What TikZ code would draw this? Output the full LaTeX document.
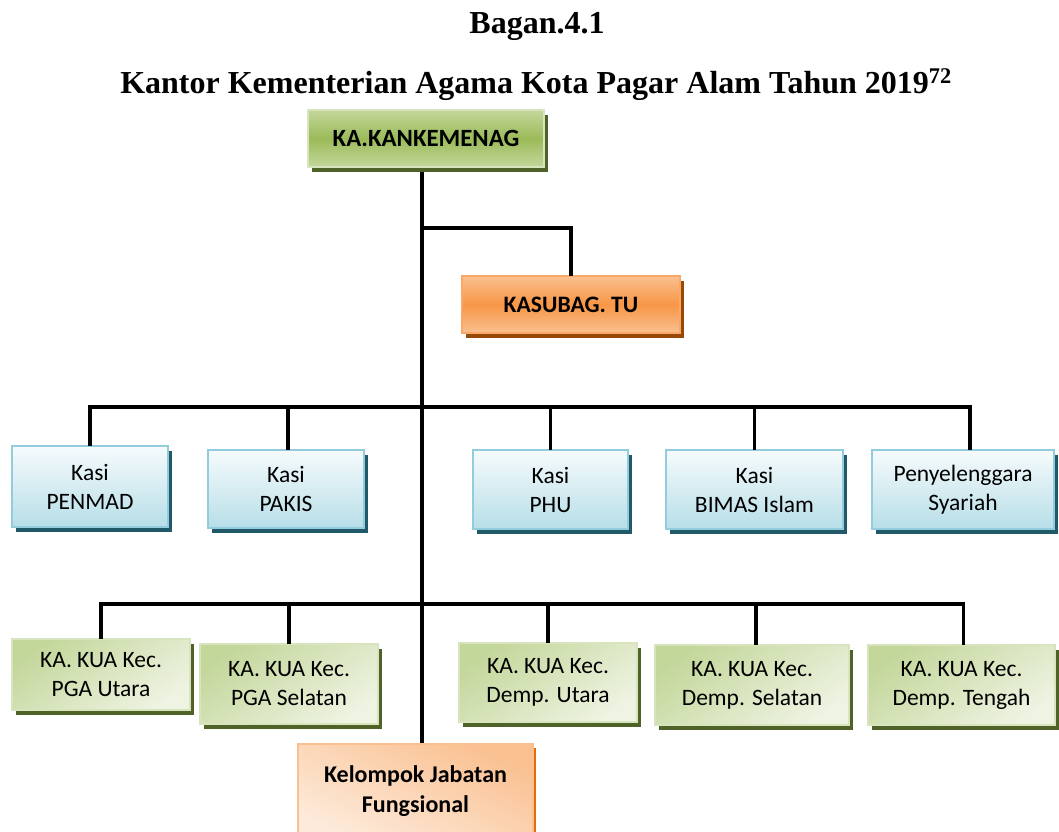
\documentclass[tikz,border=0pt]{standalone}
\usepackage{fontspec}
\setmainfont{Liberation Serif}
\newfontfamily\calfont{Carlito}
\usetikzlibrary{shadows}
\definecolor{blueTop}{HTML}{F6FBFC}
\definecolor{blueBot}{HTML}{B7DEE8}
\definecolor{blueBd}{HTML}{93CDDD}
\definecolor{blueSh}{HTML}{215968}
\definecolor{grnLight}{HTML}{C4D79B}
\definecolor{grnMid}{HTML}{9BBB59}
\definecolor{grnPale}{HTML}{EEF3E2}
\definecolor{grnBd}{HTML}{D7E4BD}
\definecolor{grnSh}{HTML}{4F6228}
\definecolor{orLight}{HTML}{FAC090}
\definecolor{orMid}{HTML}{F79646}
\definecolor{orPale}{HTML}{FDEADA}
\definecolor{orBd}{HTML}{F9A86A}
\definecolor{orSh}{HTML}{984807}
\definecolor{orSh2}{HTML}{E46C0A}
\tikzset{
  box/.style={draw, line width=1.5pt, anchor=north west, inner sep=0pt, outer sep=0pt,
    align=center, font=\calfont\fontsize{23.5}{29}\selectfont},
  bluebox/.style={box, draw=blueBd, top color=blueTop, bottom color=blueBot,
    drop shadow={shadow xshift=4pt, shadow yshift=-5pt, fill=blueSh, opacity=1}},
  kuabox/.style={box, draw=grnBd, top color=grnLight, bottom color=grnPale, shading angle=35,
    drop shadow={shadow xshift=4pt, shadow yshift=-5pt, fill=grnSh, opacity=1}},
  headbox/.style={box, font=\calfont\bfseries\fontsize{24.8}{30}\selectfont,
    draw=grnBd, top color=grnLight, bottom color=grnLight, middle color=grnMid,
    drop shadow={shadow xshift=3.5pt, shadow yshift=-5pt, fill=grnSh, opacity=1}},
  tubox/.style={box, font=\calfont\bfseries\fontsize{23.6}{30}\selectfont,
    draw=orBd, top color=orLight, bottom color=orLight, middle color=orMid,
    drop shadow={shadow xshift=4pt, shadow yshift=-5pt, fill=orSh, opacity=1}},
  fjbox/.style={box, font=\calfont\bfseries\fontsize{24}{30}\selectfont,
    draw=orLight, top color=orLight, bottom color=orPale, shading angle=-25,
    drop shadow={shadow xshift=3pt, shadow yshift=-4pt, fill=orSh2, opacity=1}},
  conn/.style={line width=3.5pt, black, line join=miter},
  title/.style={anchor=base, font=\bfseries\fontsize{32}{36}\selectfont}
}
\begin{document}
\begin{tikzpicture}[x=1pt,y=-1pt]
\useasboundingbox[fill=white] (0,0) rectangle (1059,831);
% titles
\node[title] (t1) at (537,33) {Bagan.4.1};
\node[title] (t2) at (536,93) {Kantor Kementerian Agama Kota Pagar Alam Tahun 2019\textsuperscript{72}};
% junction coordinates
\coordinate (jTU) at (422,228);
\coordinate (jK) at (422,407);
\coordinate (jA) at (422,604);
% trunk
\coordinate (trTop) at (422,166);
\coordinate (trBot) at (422,746);
\draw[conn] (trTop) -- (trBot);
% boxes
\node[headbox, minimum width=236pt, minimum height=57pt] (top) at (308,110) {KA.KANKEMENAG};
\node[tubox, minimum width=218pt, minimum height=57pt] (tu) at (462,276) {KASUBAG. TU};
\node[bluebox, minimum width=156pt, minimum height=81pt] (penmad) at (12,446) {Kasi\\PENMAD};
\node[bluebox, minimum width=156pt, minimum height=78pt] (pakis) at (208,450) {Kasi\\PAKIS};
\node[bluebox, minimum width=155pt, minimum height=79pt] (phu) at (473,450) {Kasi\\PHU};
\node[bluebox, minimum width=177pt, minimum height=79pt] (bimas) at (666,450) {Kasi\\BIMAS Islam};
\node[bluebox, minimum width=182pt, minimum height=79pt] (syariah) at (872,450) {Penyelenggara\\Syariah};
\node[kuabox, minimum width=178pt, minimum height=71pt] (pgau) at (12,639) {KA. KUA Kec.\\PGA Utara};
\node[kuabox, minimum width=178pt, minimum height=80pt] (pgas) at (200,644) {KA. KUA Kec.\\PGA Selatan};
\node[kuabox, minimum width=178pt, minimum height=79pt] (dempu) at (459,643) {KA. KUA Kec.\\Demp. Utara};
\node[kuabox, minimum width=194pt, minimum height=80pt] (demps) at (655,645) {KA. KUA Kec.\\Demp. Selatan};
\node[kuabox, minimum width=187pt, minimum height=80pt] (dempt) at (868,645) {KA. KUA Kec.\\Demp. Tengah};
\node[fjbox, minimum width=235pt, minimum height=94pt] (fj) at (298,744) {Kelompok Jabatan\\Fungsional};
% connector to KASUBAG
\draw[conn] (jTU) -| (tu.north);
% Kasi row
\coordinate (syTop) at ([xshift=7pt]syariah.north);
\coordinate (pkTop) at ([xshift=2pt]pakis.north);
\draw[conn] (penmad.north) |- (jK) -| (syTop);
\draw[conn] (pkTop) -- (pkTop |- jK);
\draw[conn] (phu.north) -- (phu.north |- jK);
\draw[conn] (bimas.north) -- (bimas.north |- jK);
% KUA row
\coordinate (dsTop) at ([xshift=4pt]demps.north);
\coordinate (dtTop) at ([xshift=2pt]dempt.north);
\draw[conn] (pgau.north) |- (jA) -| (dtTop);
\draw[conn] (pgas.north) -- (pgas.north |- jA);
\draw[conn] (dempu.north) -- (dempu.north |- jA);
\draw[conn] (dsTop) -- (dsTop |- jA);
\end{tikzpicture}
\end{document}
